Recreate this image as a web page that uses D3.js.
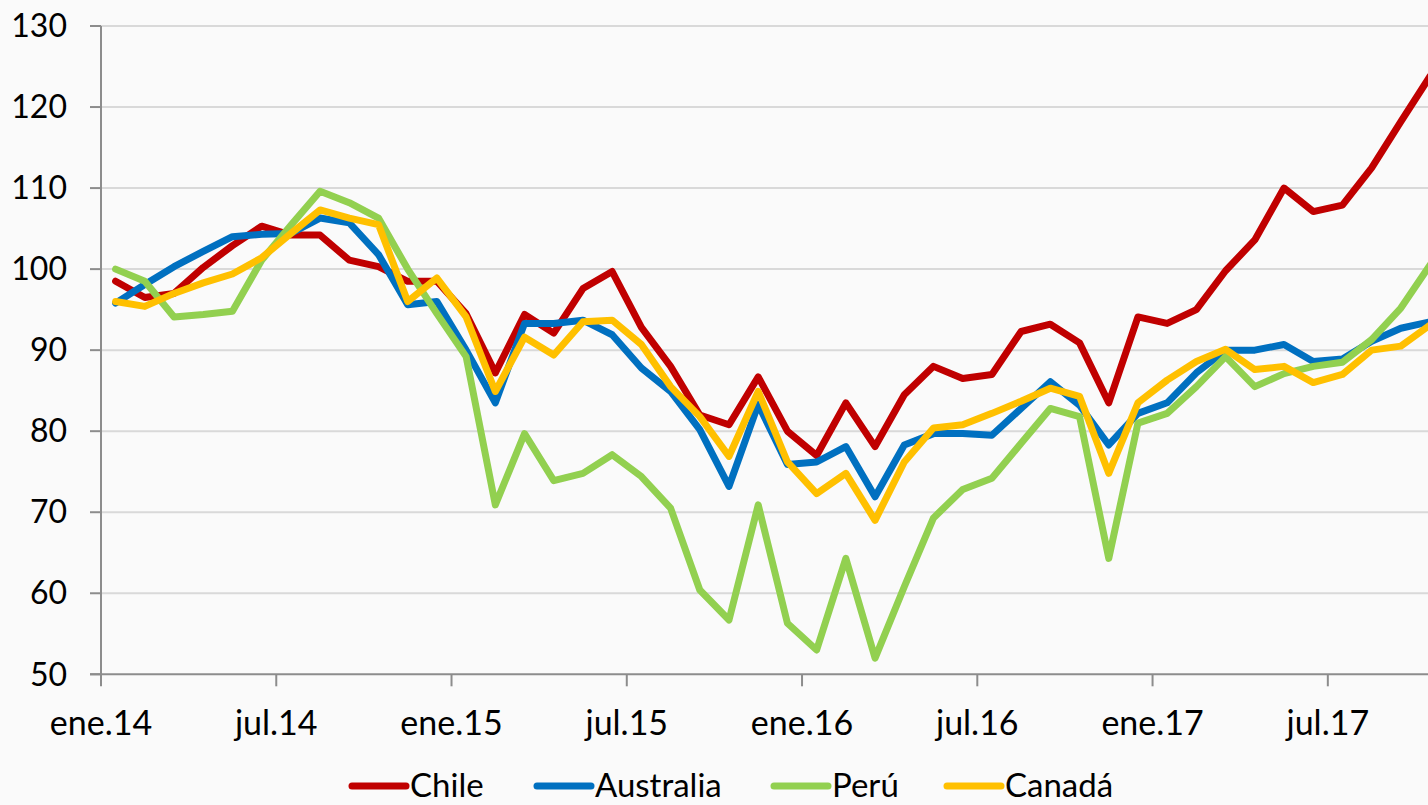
<!DOCTYPE html>
<html>
<head>
<meta charset="utf-8">
<title>Chile, Australia, Perú, Canadá</title>
<style>
  body { margin: 0; overflow: hidden; background-color: #fafafa; }
  svg { display: block; }
  .tick-label { font-family: Lato, "Open Sans", sans-serif; font-size: 32px; fill: #000; }
  .x-label { font-size: 34px; }
  .legend-label { font-family: Lato, "Open Sans", sans-serif; font-size: 33px; fill: #000; }
</style>
</head>
<body>
<svg id="chart"></svg>

<script src="https://cdnjs.cloudflare.com/ajax/libs/d3/7.8.5/d3.min.js"></script>
<script>
  const width = 1428;
  const height = 805;

  // monthly index values, ene.14 .. oct.17
  const chile = [98.5, 96.5, 97, 100.2, 102.9, 105.3, 104.2, 104.2, 101.1, 100.3,
    98.5, 98.5, 94.5, 87.2, 94.4, 92.1, 97.6, 99.7, 92.8, 88,
    82, 80.8, 86.7, 80, 77, 83.5, 78.1, 84.5, 88, 86.5,
    87, 92.3, 93.2, 90.9, 83.5, 94.1, 93.3, 95, 99.8, 103.6,
    110, 107.1, 107.9, 112.5, 118.2, 123.8];
  const australia = [95.8, 98.1, 100.3, 102.2, 104.0, 104.3, 104.4, 106.3, 105.7, 101.8,
    95.6, 96.0, 90, 83.5, 93.3, 93.3, 93.7, 91.9, 87.8, 84.9,
    80.2, 73.2, 83.3, 75.9, 76.2, 78.1, 71.9, 78.3, 79.7, 79.7,
    79.5, 82.8, 86.1, 83.2, 78.3, 82.2, 83.5, 87.2, 90.0, 90.0,
    90.7, 88.6, 88.9, 91.1, 92.7, 93.5];
  const peru = [100, 98.5, 94.1, 94.4, 94.8, 101.1, 105.4, 109.6, 108.2, 106.3,
    100, 94.5, 89.2, 70.9, 79.7, 73.9, 74.8, 77.1, 74.4, 70.5,
    60.4, 56.7, 70.9, 56.3, 53.0, 64.3, 52.0, 60.8, 69.3, 72.8,
    74.2, 78.5, 82.8, 81.8, 64.3, 81.0, 82.2, 85.5, 89.2, 85.5,
    87.1, 88.0, 88.5, 91.3, 95.2, 100.5];
  const canada = [96.0, 95.4, 97.0, 98.3, 99.4, 101.4, 104.4, 107.3, 106.3, 105.5,
    96.0, 98.9, 94.1, 84.9, 91.6, 89.4, 93.5, 93.7, 90.7, 85.5,
    81.8, 76.9, 84.9, 76.2, 72.3, 74.8, 69.0, 76.2, 80.4, 80.8,
    82.2, 83.7, 85.3, 84.3, 74.8, 83.5, 86.3, 88.6, 90.1, 87.6,
    88.0, 86.0, 87.0, 90.0, 90.5, 93.1];

  const seriesNames = ["Chile", "Australia", "Perú", "Canadá"];
  const seriesColors = ["#c00000", "#0070c0", "#92d050", "#ffc000"];
  const seriesValues = [chile, australia, peru, canada];

  const xTickLabels = ["ene.14", "jul.14", "ene.15", "jul.15", "ene.16", "jul.16", "ene.17", "jul.17"];
  const xTickIndex = [0, 6, 12, 18, 24, 30, 36, 42];
  const yTicks = [50, 60, 70, 80, 90, 100, 110, 120, 130];

  const svg = d3.select("#chart").attr("width", width).attr("height", height);

  // points sit in the middle of each month; ticks on month boundaries
  const x = d3.scaleLinear().domain([-0.5, 45.5]).range([101, 101 + 46 * 29.21]);
  const y = d3.scaleLinear().domain([50, 130]).range([674.3, 26]);

  // gridlines
  svg.append("g")
    .selectAll("line")
    .data(yTicks.slice(1))
    .enter().append("line")
    .attr("x1", x(-0.5)).attr("x2", width)
    .attr("y1", d => y(d)).attr("y2", d => y(d))
    .attr("stroke", "#d9d9d9").attr("stroke-width", 2);

  // y axis
  const yAxis = svg.append("g");
  yAxis.append("line")
    .attr("x1", x(-0.5)).attr("x2", x(-0.5))
    .attr("y1", y(130)).attr("y2", y(50))
    .attr("stroke", "#8c8c8c").attr("stroke-width", 2);
  yAxis.selectAll(".ytick")
    .data(yTicks)
    .enter().append("line")
    .attr("x1", x(-0.5) - 11).attr("x2", x(-0.5))
    .attr("y1", d => y(d)).attr("y2", d => y(d))
    .attr("stroke", "#8c8c8c").attr("stroke-width", 2);
  yAxis.selectAll("text")
    .data(yTicks)
    .enter().append("text")
    .attr("class", "tick-label")
    .attr("x", 67)
    .attr("y", d => y(d))
    .attr("dy", "0.35em")
    .attr("text-anchor", "end")
    .text(d => d);

  // x axis
  const xAxis = svg.append("g");
  xAxis.append("line")
    .attr("x1", x(-0.5) - 11).attr("x2", width)
    .attr("y1", y(50)).attr("y2", y(50))
    .attr("stroke", "#8c8c8c").attr("stroke-width", 2);
  xAxis.selectAll(".xtick")
    .data(xTickIndex)
    .enter().append("line")
    .attr("x1", d => x(d - 0.5)).attr("x2", d => x(d - 0.5))
    .attr("y1", y(50)).attr("y2", y(50) + 12)
    .attr("stroke", "#8c8c8c").attr("stroke-width", 2);
  xAxis.selectAll("text")
    .data(xTickIndex)
    .enter().append("text")
    .attr("class", "tick-label x-label")
    .attr("x", d => x(d - 0.5))
    .attr("y", 735)
    .attr("text-anchor", "middle")
    .text((d, i) => xTickLabels[i]);

  // lines
  const line = d3.line()
    .x((d, i) => x(i))
    .y(d => y(d));

  svg.append("g")
    .selectAll("path")
    .data(seriesValues)
    .enter().append("path")
    .attr("d", d => line(d))
    .attr("fill", "none")
    .attr("stroke", (d, i) => seriesColors[i])
    .attr("stroke-width", 7)
    .attr("stroke-linejoin", "round")
    .attr("stroke-linecap", "round");

  // legend
  const legendX = [350, 535, 772, 945];
  const legend = svg.append("g")
    .selectAll("g")
    .data(seriesNames)
    .enter().append("g")
    .attr("transform", (d, i) => "translate(" + legendX[i] + ",786)");
  legend.append("line")
    .attr("x1", 2).attr("x2", 56)
    .attr("y1", 0).attr("y2", 0)
    .attr("stroke", (d, i) => seriesColors[i])
    .attr("stroke-width", 7)
    .attr("stroke-linecap", "round");
  legend.append("text")
    .attr("class", "legend-label")
    .attr("x", 60)
    .attr("y", 11)
    .text(d => d);
</script>
</body>
</html>
